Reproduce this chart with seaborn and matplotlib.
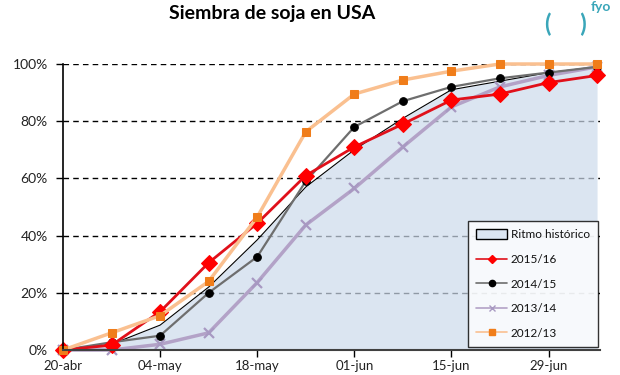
import matplotlib
matplotlib.use("Agg")
import matplotlib.pyplot as plt
from matplotlib.patches import Patch
from matplotlib.lines import Line2D
from matplotlib.ticker import FuncFormatter
import seaborn as sns
import numpy as np

# ---- data ----
fechas = ["20-abr", "27-abr", "04-may", "11-may", "18-may", "25-may",
          "01-jun", "08-jun", "15-jun", "22-jun", "29-jun", "06-jul"]
tick_labels = ["20-abr", "04-may", "18-may", "01-jun", "15-jun", "29-jun"]
ritmo_historico = [0, 2, 8.7, 22, 38.5, 57, 70, 81, 91, 94, 97, 99]
s2015_16 = [0, 1.7, 13.4, 30.5, 44.3, 61, 71, 79, 87.4, 89.5, 93.5, 96]
s2014_15 = [0, 2.7, 5, 20, 32.6, 59, 78, 87, 92, 95, 97, 99]
s2013_14 = [0, 0, 2, 6, 23.6, 43.7, 56.5, 71, 85, 92, 96, 99]
s2012_13 = [0, 6, 12, 24, 46.5, 76.3, 89.5, 94.4, 97.5, 100, 100, 100]

sns.set_theme(style="white")
plt.rcParams['font.family'] = ['Lato', 'DejaVu Sans']

fig = plt.figure(figsize=(6.2, 3.75), dpi=100)
ax = fig.add_axes([63/620, 1-350/375, 537/620, 286/375])

x = np.arange(len(fechas))

# historical area
ax.fill_between(x, ritmo_historico, 0, color=(205/255, 219/255, 236/255), alpha=0.7,
                linewidth=0, zorder=2)
sns.lineplot(x=x, y=ritmo_historico, ax=ax, color="black", linewidth=0.8, zorder=3)

sns.lineplot(x=x, y=s2013_14, ax=ax, color="#B3A2C7", linewidth=2.5, marker="x",
             markersize=7, markeredgewidth=1.6, markeredgecolor="#A899C2", zorder=4, clip_on=False)
sns.lineplot(x=x, y=s2014_15, ax=ax, color="#6E6E6E", linewidth=1.6, marker="o",
             markersize=5.5, markerfacecolor="black", markeredgecolor="black", zorder=5, clip_on=False)
sns.lineplot(x=x, y=s2015_16, ax=ax, color="#E0101A", linewidth=2.0, marker="D",
             markersize=8, markerfacecolor="#FF0000", markeredgecolor="#FF0000", zorder=6, clip_on=False)
sns.lineplot(x=x, y=s2012_13, ax=ax, color="#FAC090", linewidth=2.5, marker="s",
             markersize=6, markerfacecolor="#F07D1A", markeredgecolor="#F07D1A", zorder=7, clip_on=False)

ax.set_xlim(0, 11.06)
ax.set_ylim(0, 100)
ax.set_yticks([0, 20, 40, 60, 80, 100])
ax.yaxis.set_major_formatter(FuncFormatter(lambda v, p: f"{v:.0f}%"))
ax.set_xticks([fechas.index(t) for t in tick_labels])
ax.set_xticklabels(tick_labels)

# grid
for v in [20, 40, 60, 80, 100]:
    ax.axhline(v, color="black", linewidth=1.0, linestyle=(0, (4, 3)), zorder=1)

for s in ["top", "right"]:
    ax.spines[s].set_visible(False)
ax.spines["left"].set_color("black")
ax.spines["left"].set_linewidth(1.2)
ax.spines["bottom"].set_color("#404040")
ax.spines["bottom"].set_linewidth(1.5)
ax.spines["left"].set_zorder(8)
ax.spines["bottom"].set_zorder(8)

ax.tick_params(axis="y", which="major", length=5, width=1, color="black",
               direction="out", pad=6, labelsize=10, left=True, labelcolor="#222222")
ax.tick_params(axis="x", which="major", length=5, width=1, color="black",
               direction="out", pad=2.5, labelsize=9.5, bottom=True, labelcolor="#222222")
ax.set_xlabel("")
ax.set_ylabel("")

handles = [
    Patch(facecolor="#DCE6F2", edgecolor="black", linewidth=1.0, label="Ritmo histórico"),
    Line2D([], [], color="#E0101A", linewidth=1.2, marker="D", markersize=4,
           markerfacecolor="#FF0000", markeredgecolor="#FF0000", label="2015/16"),
    Line2D([], [], color="#6E6E6E", linewidth=1.2, marker="o", markersize=4.5,
           markerfacecolor="black", markeredgecolor="black", label="2014/15"),
    Line2D([], [], color="#B3A2C7", linewidth=1.2, marker="x", markersize=4.5,
           markeredgecolor="#A899C2", label="2013/14"),
    Line2D([], [], color="#FAC090", linewidth=1.2, marker="s", markersize=5,
           markerfacecolor="#F07D1A", markeredgecolor="#F07D1A", label="2012/13"),
]
leg = ax.legend(handles=handles, loc="lower right", bbox_to_anchor=(598/620, 1-347/375),
                bbox_transform=fig.transFigure, frameon=True, fancybox=False,
                fontsize=8.5, handlelength=2.6, handleheight=0.9, labelspacing=1.15,
                borderpad=0.7, handletextpad=0.3, borderaxespad=0)
leg.get_frame().set_edgecolor("black")
leg.get_frame().set_linewidth(1.0)
leg.get_frame().set_facecolor("white")
leg.set_zorder(10)
for t in leg.get_texts():
    t.set_color("#111111")

fig.text(272/620, 1-13/375, "Siembra de soja en USA", ha="center", va="center",
         fontsize=14, fontweight="bold", color="black")
fig.text(566/620, 1-24/375, "(     )", ha="center", va="center",
         fontsize=17, fontweight="bold", color="#3AA6B9")
fig.text(601/620, 1-7/375, "fyo", ha="center", va="center",
         fontsize=10, fontweight="bold", color="#3AA6B9")

fig.savefig("out.png", dpi=100)
